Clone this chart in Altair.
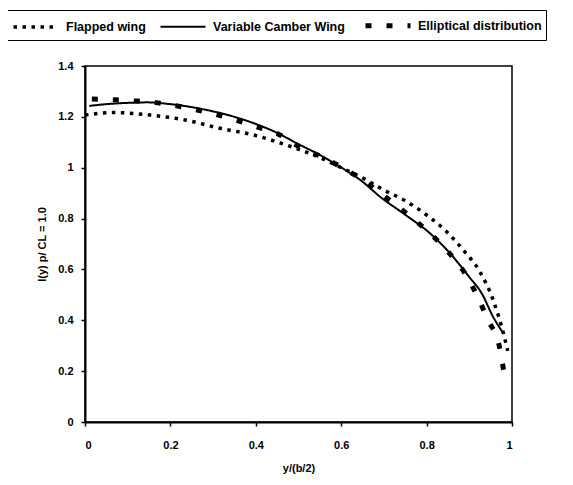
import altair as alt
import pandas as pd

series_names = ["Flapped wing", "Variable Camber Wing", "Elliptical distribution"]

flap_x = [0.0, 0.066, 0.152, 0.234, 0.316, 0.394, 0.472, 0.55, 0.6, 0.65, 0.7, 0.75, 0.8, 0.847, 0.886, 0.925, 0.956, 0.98, 0.99]
flap_y = [1.207, 1.217, 1.207, 1.188, 1.155, 1.129, 1.089, 1.04, 1.0, 0.96, 0.912, 0.87, 0.814, 0.748, 0.676, 0.59, 0.479, 0.348, 0.28]

vc_x = [0.01, 0.05, 0.1, 0.145, 0.2, 0.285, 0.35, 0.4, 0.45, 0.496, 0.55, 0.597, 0.65, 0.691, 0.75, 0.808, 0.855, 0.9, 0.929, 0.956, 0.98]
vc_y = [1.243, 1.25, 1.255, 1.257, 1.25, 1.227, 1.2, 1.172, 1.137, 1.096, 1.05, 1.004, 0.945, 0.886, 0.815, 0.742, 0.663, 0.57, 0.506, 0.413, 0.348]

el_x = [0.016, 0.07, 0.12, 0.17, 0.24, 0.297, 0.351, 0.402, 0.452, 0.503, 0.554, 0.604, 0.656, 0.70, 0.753, 0.808, 0.85, 0.89, 0.92, 0.944, 0.97, 0.981]
el_y = [1.27, 1.267, 1.262, 1.255, 1.235, 1.214, 1.188, 1.161, 1.133, 1.081, 1.043, 0.999, 0.945, 0.89, 0.82, 0.742, 0.67, 0.584, 0.49, 0.40, 0.30, 0.197]

x_ticks = [0, 0.2, 0.4, 0.6, 0.8, 1]
y_ticks = [0, 0.2, 0.4, 0.6, 0.8, 1, 1.2, 1.4]

rows = []
for name, xs, ys in [(series_names[0], flap_x, flap_y),
                     (series_names[1], vc_x, vc_y),
                     (series_names[2], el_x, el_y)]:
    for i, (a, b) in enumerate(zip(xs, ys)):
        rows.append({"series": name, "x": a, "y": b, "order": i})
df = pd.DataFrame(rows)

FONT = "Liberation Sans"

legend = alt.Legend(
    orient="none", legendX=-78, legendY=-56, direction="horizontal", columns=3,
    title=None, symbolType="M-1,0H4", symbolSize=324, symbolStrokeColor="black",
    symbolFillColor="transparent",
    strokeColor="black", padding=4, labelFont=FONT, labelFontSize=12.5,
    labelFontWeight="bold", labelColor="black", columnPadding=10, labelOffset=32,
    labelLimit=300,
)

chart = alt.Chart(df).mark_line(color="black", interpolate="monotone", strokeCap="butt").encode(
    x=alt.X("x:Q", scale=alt.Scale(domain=[0, 1], nice=False),
            axis=alt.Axis(values=x_ticks, format="~g", title="y/(b/2)", labelPadding=13, titlePadding=12)),
    y=alt.Y("y:Q", scale=alt.Scale(domain=[0, 1.4], nice=False),
            axis=alt.Axis(values=y_ticks, format="~g", title="l(y) p/ CL = 1.0", labelPadding=8, titlePadding=10)),
    strokeDash=alt.StrokeDash("series:N", scale=alt.Scale(domain=series_names, range=[[3.5, 5.5], [1, 0], [6, 15]]), legend=legend),
    strokeWidth=alt.StrokeWidth("series:N", scale=alt.Scale(type="ordinal", domain=series_names, range=[3.5, 2, 5]), legend=legend),
    detail="series:N",
    order="order:Q",
).properties(
    width=427, height=356,
    autosize=alt.AutoSizeParams(type="none"),
    padding={"left": 77, "top": 58, "right": 50, "bottom": 54},
).configure_view(
    stroke="black", strokeWidth=1.5
).configure_axis(
    grid=False, domainColor="black", domainWidth=2, tickColor="black", tickWidth=1.5, tickSize=4,
    labelColor="black", labelFont=FONT, labelFontSize=11, labelFontWeight="bold",
    titleColor="black", titleFont=FONT, titleFontSize=11, titleFontWeight="bold",
)

chart.save("out.html", embed_options={"renderer": "svg", "actions": False})
